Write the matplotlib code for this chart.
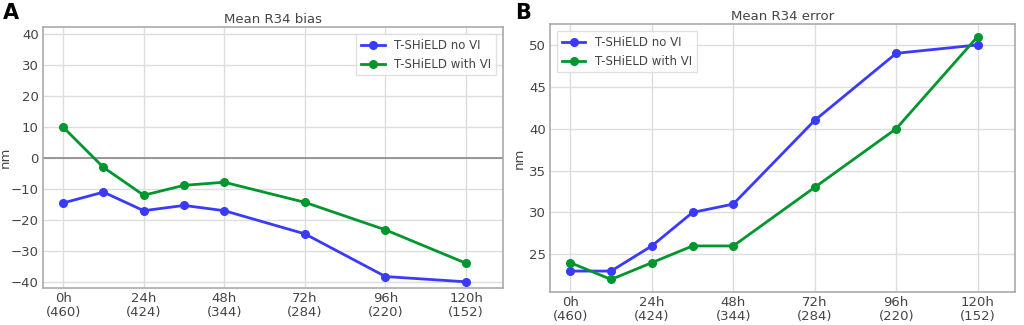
import matplotlib
matplotlib.use("Agg")
import matplotlib.pyplot as plt

hours = [0, 12, 24, 36, 48, 72, 96, 120]
tick_hours = [0, 24, 48, 72, 96, 120]
tick_labels = ["0h\n(460)", "24h\n(424)", "48h\n(344)", "72h\n(284)", "96h\n(220)", "120h\n(152)"]

bias_no_vi = [-14.5, -11, -17, -15.3, -17, -24.5, -38.3, -40]
bias_with_vi = [10, -3, -12, -8.8, -7.8, -14.3, -23.2, -34]

err_no_vi = [23, 23, 26, 30, 31, 41, 49, 50]
err_with_vi = [24, 22, 24, 26, 26, 33, 40, 51]

blue = "#3a3aff"
green = "#00962e"
gray_txt = "#444444"

plt.rcParams["font.family"] = "DejaVu Sans"
fig = plt.figure(figsize=(10.24, 3.25), dpi=100)
axA = fig.add_axes([43/1024, 1-288/325, 460/1024, 261/325])
axB = fig.add_axes([550/1024, 1-292/325, 465/1024, 268/325])

def style(ax, label_x):
    ax.grid(True, color="#dddddd", linewidth=1)
    ax.set_axisbelow(True)
    for s in ax.spines.values():
        s.set_color("#aaaaaa")
        s.set_linewidth(1.2)
    ax.tick_params(colors=gray_txt, labelsize=9.5, length=0, pad=3)
    ax.set_xticks(tick_hours)
    ax.set_xticklabels(tick_labels, linespacing=1.1)
    ax.set_xlim(-6, 131)
    ax.set_ylabel("nm", color=gray_txt, fontsize=9.5)
    ax.yaxis.set_label_coords(label_x, 0.5)

axA.axhline(0, color="#888888", linewidth=1.2, zorder=1)
axA.plot(hours, bias_no_vi, "-o", color=blue, lw=2, ms=5.5, label="T-SHiELD no VI")
axA.plot(hours, bias_with_vi, "-o", color=green, lw=2, ms=5.5, label="T-SHiELD with VI")
style(axA, -0.068)
axA.set_ylim(-42, 42.4)
axA.set_yticks([-40, -30, -20, -10, 0, 10, 20, 30, 40])
axA.set_yticklabels(["\u221240", "\u221230", "\u221220", "\u221210", "0", "10", "20", "30", "40"])
axA.set_title("Mean R34 bias", color=gray_txt, fontsize=9.5, pad=3)
axA.legend(loc="upper right", fontsize=8.5, labelcolor=gray_txt, framealpha=0.9,
           edgecolor="#dddddd", fancybox=False, borderaxespad=0.6)

axB.plot(hours, err_no_vi, "-o", color=blue, lw=2, ms=5.5, label="T-SHiELD no VI")
axB.plot(hours, err_with_vi, "-o", color=green, lw=2, ms=5.5, label="T-SHiELD with VI")
style(axB, -0.052)
axB.set_ylim(20.5, 52.5)
axB.set_yticks([25, 30, 35, 40, 45, 50])
axB.set_title("Mean R34 error", color=gray_txt, fontsize=9.5, pad=3)
axB.legend(loc="upper left", fontsize=8.5, labelcolor=gray_txt, framealpha=0.9,
           edgecolor="#dddddd", fancybox=False, borderaxespad=0.6)

fig.text(3/1024, 1-3/325, "A", fontsize=15, fontweight="bold", va="top", ha="left")
fig.text(515/1024, 1-3/325, "B", fontsize=15, fontweight="bold", va="top", ha="left")

fig.savefig("out.png", dpi=100)
